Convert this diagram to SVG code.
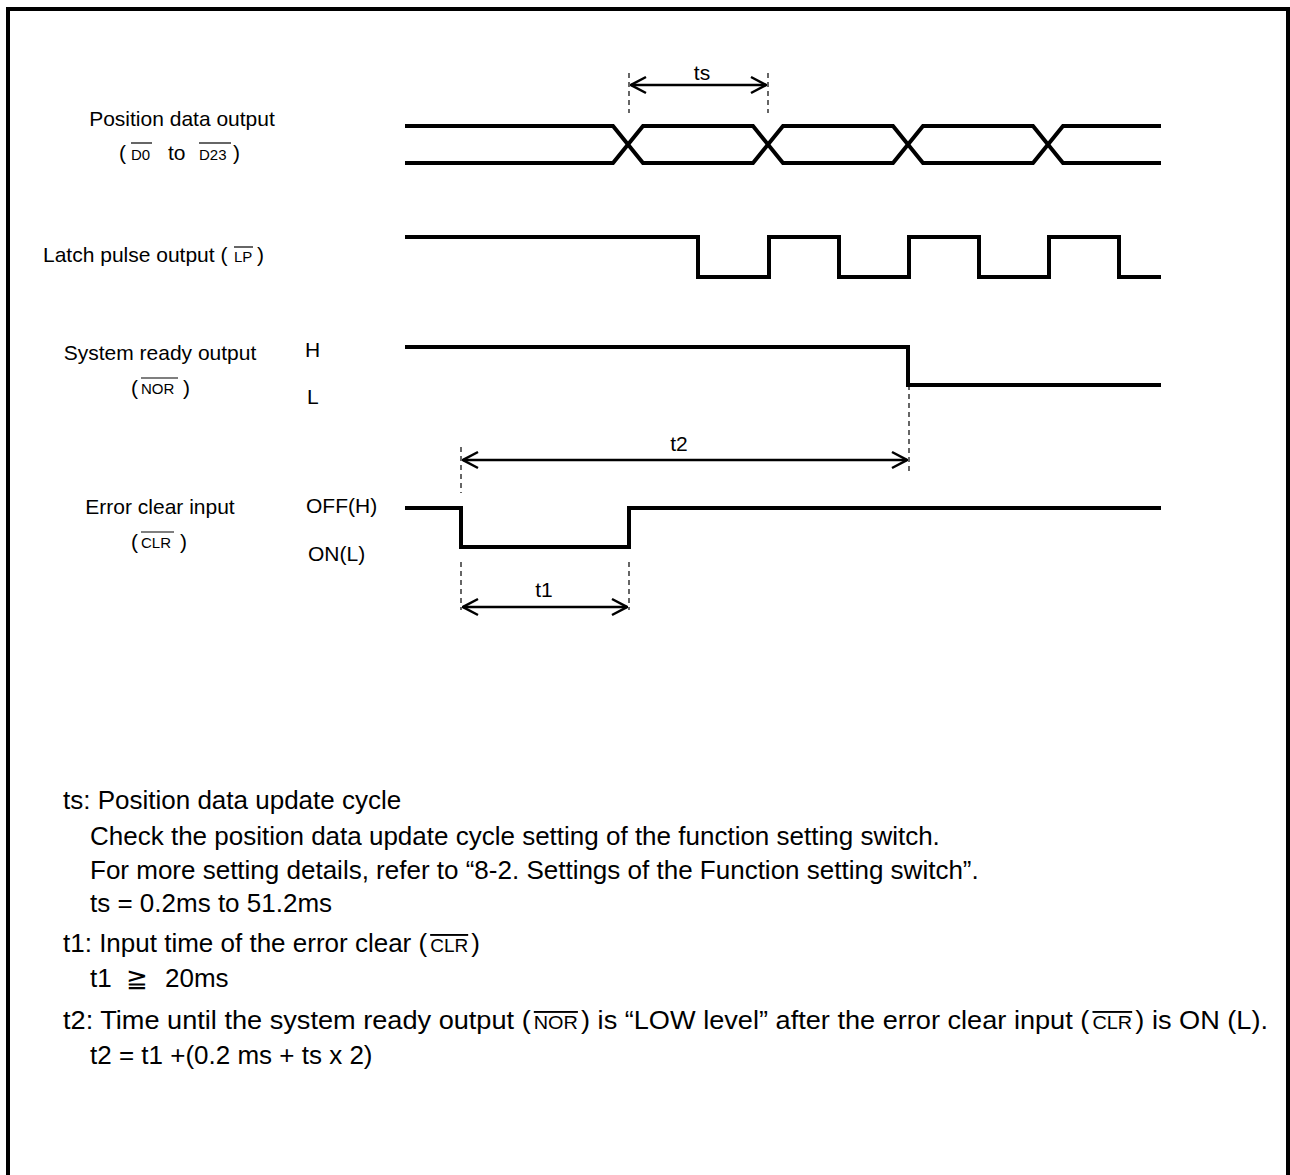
<svg xmlns="http://www.w3.org/2000/svg" width="1290" height="1175" viewBox="0 0 1290 1175">
<style>
text{font-family:"Liberation Sans",Arial,sans-serif;fill:#000}
.lbl{font-size:21px}
.sm{font-size:15px}
.body{font-size:26px}
.ovt{text-decoration:overline;font-size:19px}
.sig{fill:none;stroke:#000;stroke-width:4;stroke-linejoin:miter}
.dash{stroke:#000;stroke-width:1.2;stroke-dasharray:5,4;fill:none}
.arr{stroke:#000;stroke-width:2.5;fill:none;marker-start:url(#ah);marker-end:url(#ah)}
.ov{stroke:#000;stroke-width:1.2}
</style>
<defs>
<marker id="ah" viewBox="0 0 20 20" refX="19" refY="10" markerWidth="20" markerHeight="20" markerUnits="userSpaceOnUse" orient="auto-start-reverse">
<path d="M4,2 L19,10 L4,18" fill="none" stroke="#000" stroke-width="2.5"/>
</marker>
</defs>
<rect width="1290" height="1175" fill="#fff"/>
<path d="M8,1175 V9 H1288 V1175" fill="none" stroke="#000" stroke-width="4"/>

<g id="label-position">
<text class="lbl" x="182" y="126" text-anchor="middle">Position data output</text>
<text class="lbl" x="119" y="160">(</text>
<text class="sm" x="131" y="160">D0</text>
<line class="ov" x1="131" y1="143" x2="152" y2="143"/>
<text class="lbl" x="168" y="160">to</text>
<text class="sm" x="199" y="160">D23</text>
<line class="ov" x1="199" y1="143" x2="231" y2="143"/>
<text class="lbl" x="233" y="160">)</text>
</g>

<g id="label-latch">
<text class="lbl" x="43" y="262">Latch pulse output (</text>
<text class="sm" x="234" y="262">LP</text>
<line class="ov" x1="234" y1="247" x2="253" y2="247"/>
<text class="lbl" x="257" y="262">)</text>
</g>

<g id="label-ready">
<text class="lbl" x="160" y="360" text-anchor="middle">System ready output</text>
<text class="lbl" x="131" y="395">(</text>
<text class="sm" x="141" y="394">NOR</text>
<line class="ov" x1="141" y1="378" x2="178" y2="378"/>
<text class="lbl" x="183" y="395">)</text>
<text class="lbl" x="305" y="357">H</text>
<text class="lbl" x="307" y="404">L</text>
</g>

<g id="label-clear">
<text class="lbl" x="160" y="514" text-anchor="middle">Error clear input</text>
<text class="lbl" x="131" y="549">(</text>
<text class="sm" x="141" y="548">CLR</text>
<line class="ov" x1="141" y1="532" x2="174" y2="532"/>
<text class="lbl" x="180" y="549">)</text>
<text class="lbl" x="306" y="513">OFF(H)</text>
<text class="lbl" x="308" y="561">ON(L)</text>
</g>

<g id="signal-position">
<path class="sig" d="M405,126 H613 L643,163 H753 L783,126 H893 L923,163 H1033 L1063,126 H1161"/>
<path class="sig" d="M405,163 H613 L643,126 H753 L783,163 H893 L923,126 H1033 L1063,163 H1161"/>
</g>

<g id="signal-latch">
<path class="sig" d="M405,237 H698 V277 H769 V237 H839 V277 H909 V237 H979 V277 H1049 V237 H1119 V277 H1161"/>
</g>

<g id="signal-ready">
<path class="sig" d="M405,347 H908 V385 H1161"/>
</g>

<g id="signal-clear">
<path class="sig" d="M405,508 H461 V547 H629 V508 H1161"/>
</g>

<g id="connectors">
<line class="dash" x1="629" y1="73" x2="629" y2="113"/>
<line class="dash" x1="768" y1="73" x2="768" y2="113"/>
<line class="arr" x1="631" y1="85" x2="766" y2="85"/>
<text class="lbl" x="702" y="80" text-anchor="middle">ts</text>

<line class="dash" x1="909" y1="385" x2="909" y2="474"/>
<line class="dash" x1="461" y1="447" x2="461" y2="493"/>
<line class="arr" x1="463" y1="460" x2="907" y2="460"/>
<text class="lbl" x="679" y="451" text-anchor="middle">t2</text>

<line class="dash" x1="461" y1="562" x2="461" y2="610"/>
<line class="dash" x1="629" y1="562" x2="629" y2="610"/>
<line class="arr" x1="463" y1="607" x2="627" y2="607"/>
<text class="lbl" x="544" y="597" text-anchor="middle">t1</text>
</g>

<g id="notes">
<text class="body" x="63" y="809">ts: Position data update cycle</text>
<text class="body" x="90" y="845">Check the position data update cycle setting of the function setting switch.</text>
<text class="body" x="90" y="879">For more setting details, refer to “8-2. Settings of the Function setting switch”.</text>
<text class="body" x="90" y="912">ts = 0.2ms to 51.2ms</text>
<text class="body" x="63" y="952">t1: Input time of the error clear (<tspan class="ovt" dx="3">CLR</tspan><tspan dx="3">)</tspan></text>
<text class="body" x="90" y="987">t1<tspan x="126">≧</tspan><tspan x="165">20ms</tspan></text>
<text class="body" x="63" y="1029" textLength="1205" lengthAdjust="spacingAndGlyphs">t2: Time until the system ready output (<tspan class="ovt" dx="3">NOR</tspan><tspan dx="3">) is “LOW level” after the error clear input (</tspan><tspan class="ovt" dx="3">CLR</tspan><tspan dx="3">) is ON (L).</tspan></text>
<text class="body" x="90" y="1064">t2 = t1 +(0.2 ms + ts x 2)</text>
</g>
</svg>
